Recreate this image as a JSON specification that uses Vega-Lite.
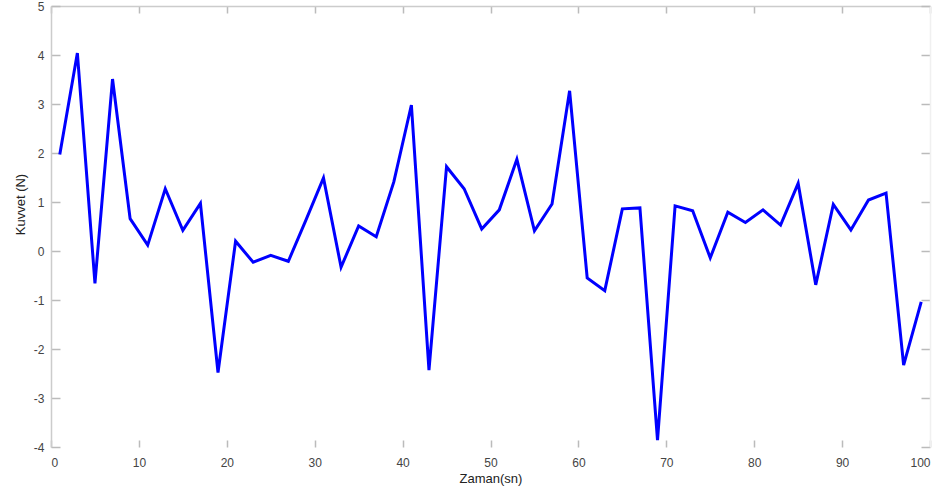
{
  "$schema": "https://vega.github.io/schema/vega-lite/v6.json",
  "autosize": {"type": "none"},
  "padding": {"left": 51, "top": 6, "right": 20, "bottom": 55},
  "width": 879,
  "height": 441,
  "background": "white",
  "config": {
    "view": {"stroke": null},
    "axis": {
      "labelFont": "Liberation Sans",
      "titleFont": "Liberation Sans",
      "labelFontSize": 12,
      "titleFontSize": 13,
      "labelColor": "#444444",
      "titleColor": "#222222",
      "titleFontWeight": "normal",
      "grid": false,
      "tickColor": "#bbbbbb",
      "domainColor": "#cccccc",
      "tickWidth": 1.5,
      "domainWidth": 1.5
    }
  },
  "data": {
    "values": [
      {"t": 1, "f": 1.97}, {"t": 3, "f": 4.04}, {"t": 5, "f": -0.66}, {"t": 7, "f": 3.51},
      {"t": 9, "f": 0.66}, {"t": 11, "f": 0.12}, {"t": 13, "f": 1.27}, {"t": 15, "f": 0.42},
      {"t": 17, "f": 0.97}, {"t": 19, "f": -2.48}, {"t": 21, "f": 0.2}, {"t": 23, "f": -0.23},
      {"t": 25, "f": -0.09}, {"t": 27, "f": -0.21}, {"t": 29, "f": 0.63}, {"t": 31, "f": 1.49},
      {"t": 33, "f": -0.33}, {"t": 35, "f": 0.51}, {"t": 37, "f": 0.29}, {"t": 39, "f": 1.41},
      {"t": 41, "f": 2.98}, {"t": 43, "f": -2.43}, {"t": 45, "f": 1.72}, {"t": 47, "f": 1.27},
      {"t": 49, "f": 0.45}, {"t": 51, "f": 0.84}, {"t": 53, "f": 1.87}, {"t": 55, "f": 0.41},
      {"t": 57, "f": 0.96}, {"t": 59, "f": 3.27}, {"t": 61, "f": -0.55}, {"t": 63, "f": -0.81},
      {"t": 65, "f": 0.86}, {"t": 67, "f": 0.88}, {"t": 69, "f": -3.86}, {"t": 71, "f": 0.92},
      {"t": 73, "f": 0.82}, {"t": 75, "f": -0.14}, {"t": 77, "f": 0.79}, {"t": 79, "f": 0.58},
      {"t": 81, "f": 0.84}, {"t": 83, "f": 0.53}, {"t": 85, "f": 1.38}, {"t": 87, "f": -0.69},
      {"t": 89, "f": 0.95}, {"t": 91, "f": 0.43}, {"t": 93, "f": 1.04}, {"t": 95, "f": 1.18},
      {"t": 97, "f": -2.33}, {"t": 99, "f": -1.04}
    ]
  },
  "layer": [
    {
      "mark": {"type": "line", "color": "#0000ff", "strokeWidth": 3, "strokeJoin": "miter", "clip": true},
      "encoding": {
        "x": {
          "field": "t", "type": "quantitative",
          "scale": {"domain": [0, 100], "nice": false, "zero": false},
          "axis": {"orient": "bottom", "title": "Zaman(sn)", "values": [0,10,20,30,40,50,60,70,80,90,100],
                   "labelExpr": "'' + datum.value",
                   "domain": false, "tickSize": -7, "labelPadding": 17, "titlePadding": 4}
        },
        "y": {
          "field": "f", "type": "quantitative",
          "scale": {"domain": [-4, 5], "nice": false, "zero": false},
          "axis": {"orient": "left", "title": "Kuvvet (N)", "values": [-4,-3,-2,-1,0,1,2,3,4,5],
                   "labelExpr": "'' + datum.value",
                   "tickSize": -9, "labelPadding": 16, "titlePadding": 6, "titleY": 198}
        }
      }
    },
    {
      "mark": {"type": "line", "opacity": 0},
      "encoding": {
        "x": {
          "field": "t", "type": "quantitative",
          "axis": {"orient": "top", "title": null, "labels": false, "values": [0,10,20,30,40,50,60,70,80,90,100],
                   "tickSize": -7}
        },
        "y": {
          "field": "f", "type": "quantitative",
          "axis": {"orient": "right", "title": null, "labels": false, "values": [-4,-3,-2,-1,0,1,2,3,4,5],
                   "tickSize": -9, "domainColor": "#f0f0f0"}
        }
      }
    }
  ],
  "resolve": {"axis": {"x": "independent", "y": "independent"}}
}
